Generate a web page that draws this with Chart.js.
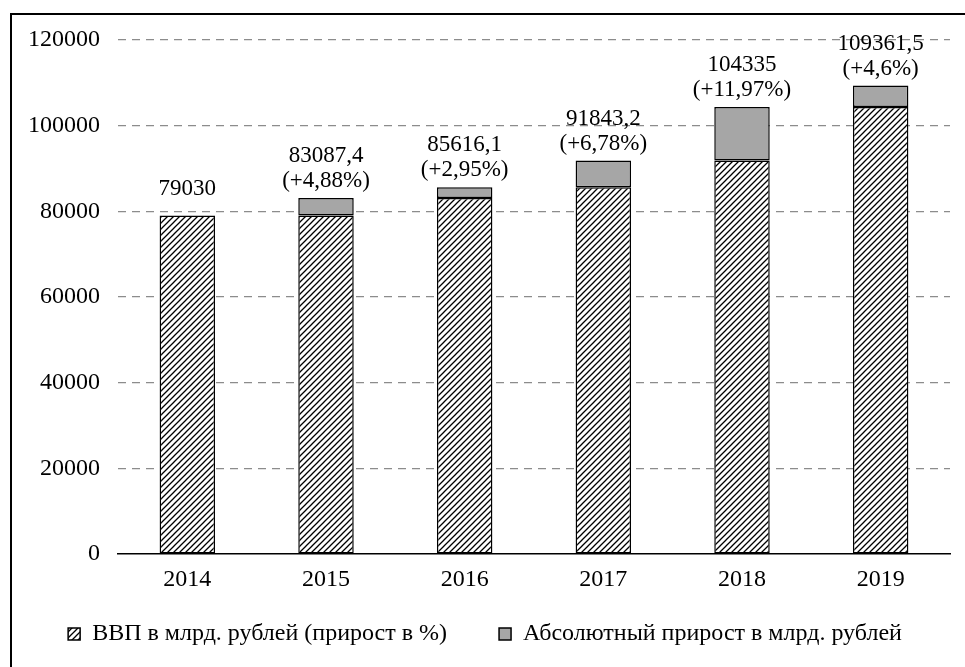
<!DOCTYPE html>
<html>
<head>
<meta charset="utf-8">
<script src="https://cdn.jsdelivr.net/npm/chart.js@4.4.1/dist/chart.umd.min.js"></script>
<style>
  html, body { margin: 0; padding: 0; background: #fff; }
  #wrap { position: relative; width: 965px; height: 667px; }
</style>
</head>
<body>
<div id="wrap"><canvas id="chart" width="965" height="667"></canvas></div>
<script>
// data
const years = ['2014', '2015', '2016', '2017', '2018', '2019'];
const gdp = [79030, 83087.4, 85616.1, 91843.2, 104335, 109361.5];
const gdpText = ['79030', '83087,4', '85616,1', '91843,2', '104335', '109361,5'];
const growthText = ['', '(+4,88%)', '(+2,95%)', '(+6,78%)', '(+11,97%)', '(+4,6%)'];
const yTicks = [0, 20000, 40000, 60000, 80000, 100000, 120000];

// hatched part = previous year's GDP, grey part = absolute growth
const base = gdp.map((v, i) => i === 0 ? v : gdp[i - 1]);
const growth = gdp.map((v, i) => i === 0 ? 0 : +(v - gdp[i - 1]).toFixed(1));

const FONT = '"Liberation Serif", "Times New Roman", serif';
const LEGEND_GAP = 52;

function hatch() {
  const c = document.createElement('canvas');
  c.width = 6; c.height = 6;
  const g = c.getContext('2d');
  g.fillStyle = '#fff';
  g.fillRect(0, 0, 6, 6);
  g.strokeStyle = '#000';
  g.lineWidth = 1.3;
  g.beginPath();
  g.moveTo(0, 6); g.lineTo(6, 0);
  g.moveTo(-1, 1); g.lineTo(1, -1);
  g.moveTo(5, 7); g.lineTo(7, 5);
  g.stroke();
  return g.createPattern(c, 'repeat');
}
const ctx = document.getElementById('chart').getContext('2d');
const hatchFill = hatch();

// labels above each bar
const topLabels = {
  id: 'topLabels',
  afterDatasetsDraw(chart) {
    const c = chart.ctx;
    const meta = chart.getDatasetMeta(1);
    c.save();
    c.font = '23px ' + FONT;
    c.fillStyle = '#000';
    c.textAlign = 'center';
    c.textBaseline = 'middle';
    meta.data.forEach((bar, i) => {
      const x = bar.x;
      const top = chart.scales.y.getPixelForValue(gdp[i]);
      if (growthText[i]) {
        c.fillText(growthText[i], x, top - 17);
        c.fillText(gdpText[i], x, top - 42);
      } else {
        c.fillText(gdpText[i], x, top - 27);
      }
    });
    c.restore();
  }
};

// outer frame (left and top edges are visible)
const frame = {
  id: 'frame',
  afterDraw(chart) {
    const c = chart.ctx;
    c.save();
    c.strokeStyle = '#000';
    c.lineWidth = 2;
    c.beginPath();
    c.moveTo(11, 700);
    c.lineTo(11, 14);
    c.lineTo(1000, 14);
    c.stroke();
    c.restore();
  }
};

// the legend's padding sets both the gap between items and its height;
// keep the wide gap but give the box a fixed height and nudge it up
const legendFit = {
  id: 'legendFit',
  beforeLayout(chart) {
    const lg = chart.legend;
    if (!lg || lg._patched) return;
    const fit = lg.fit;
    lg.fit = function () { fit.call(this); this.height = 73; };
    const draw = lg.draw;
    lg.draw = function () {
      const dy = 24;
      this.ctx.save();
      this.ctx.translate(10, -dy);
      this.bottom += dy;
      draw.apply(this, arguments);
      this.bottom -= dy;
      this.ctx.restore();
    };
    lg._patched = true;
  }
};

new Chart(ctx, {
  type: 'bar',
  data: {
    labels: years,
    datasets: [{
      label: 'ВВП в млрд. рублей (прирост в %)',
      data: base,
      backgroundColor: hatchFill,
      borderColor: '#000',
      borderWidth: 1.5,
      borderSkipped: false,
      barPercentage: 0.4,
      categoryPercentage: 1
    }, {
      label: 'Абсолютный прирост в млрд. рублей',
      data: growth,
      backgroundColor: '#a6a6a6',
      borderColor: '#000',
      borderWidth: 1.5,
      borderSkipped: false,
      barPercentage: 0.4,
      categoryPercentage: 1
    }]
  },
  options: {
    responsive: false,
    animation: false,
    layout: { padding: { left: 0, right: 15, top: 40, bottom: 0 } },
    plugins: {
      tooltip: { enabled: false },
      legend: {
        position: 'bottom',
        labels: {
          font: { family: FONT, size: 24 },
          color: '#000',
          boxWidth: 12,
          boxHeight: 12,
          padding: LEGEND_GAP,
          generateLabels(chart) {
            return chart.data.datasets.map((d, i) => ({
              text: d.label,
              fillStyle: d.backgroundColor,
              strokeStyle: '#000',
              lineWidth: 1.5,
              datasetIndex: i
            }));
          }
        }
      }
    },
    scales: {
      x: {
        stacked: true,
        grid: { display: false },
        border: { display: true, color: '#000', width: 1.5 },
        ticks: { font: { family: FONT, size: 24 }, color: '#000', padding: 3 },
        afterFit(scale) { scale.height = 40; }
      },
      y: {
        stacked: true,
        min: 0,
        max: 120000,
        afterBuildTicks(scale) { scale.ticks = yTicks.map(v => ({ value: v })); },
        afterFit(scale) { scale.width = 118; },
        grid: {
          drawTicks: false,
          color: c => c.tick && c.tick.value === 0 ? 'rgba(0,0,0,0)' : '#8c8c8c',
          lineWidth: 1.2
        },
        border: { display: false, dash: [8, 6] },
        ticks: {
          font: { family: FONT, size: 24 },
          color: '#000',
          padding: 18,
          callback: v => String(v)
        }
      }
    }
  },
  plugins: [topLabels, frame, legendFit]
});
</script>
</body>
</html>
